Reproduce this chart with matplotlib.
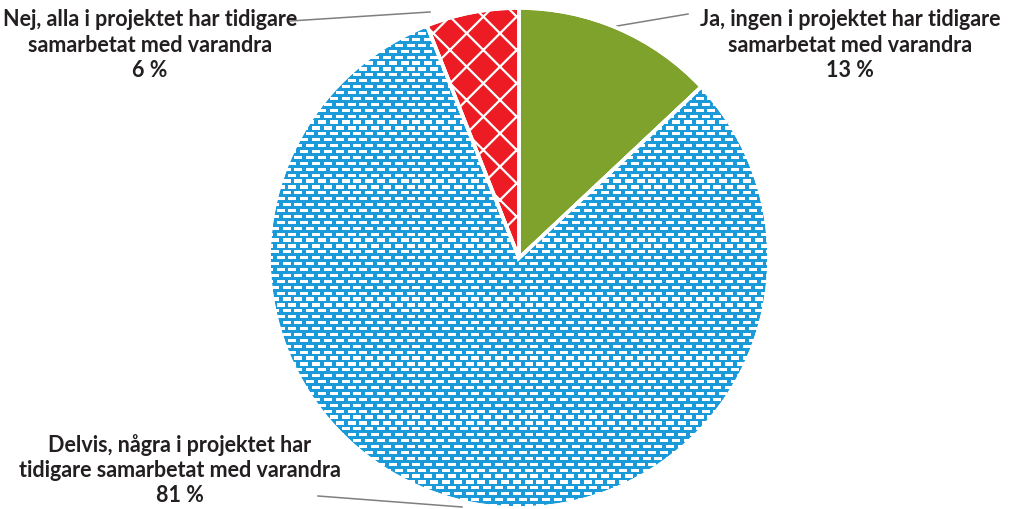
import numpy as np
import matplotlib
matplotlib.use("Agg")
import matplotlib.pyplot as plt
from matplotlib.patches import Wedge, Rectangle
from matplotlib.collections import PatchCollection

labels = ["Ja, ingen i projektet har tidigare\nsamarbetat med varandra\n13 %",
          "Delvis, några i projektet har\ntidigare samarbetat med varandra\n81 %",
          "Nej, alla i projektet har tidigare\nsamarbetat med varandra\n6 %"]
values = [13, 81, 6]
colors = ["#7fa22c", "#1a9ad9", "#ed1c24"]

W, H = 1012, 510
fig = plt.figure(figsize=(W/100, H/100), dpi=100)
ax = fig.add_axes([0, 0, 1, 1])
ax.set_xlim(0, W)
ax.set_ylim(0, H)
ax.set_aspect("equal")
ax.axis("off")

cx, cy, R = 519, H - 259, 250
plt.rcParams['hatch.linewidth'] = 1.6

wedges, _ = ax.pie(values, center=(cx, cy), radius=R, startangle=90, counterclock=False,
                   colors=colors, wedgeprops=dict(edgecolor="white", linewidth=2.5),
                   frame=True)
ax.set_xlim(0, W)
ax.set_ylim(0, H)
ax.axis("off")

# red: white diamond lattice
wedges[2].set_hatch("x")

# blue: white brick dashes pattern
rects = []
px, py = 11.8, 5.9
rw, rh = 8.0, 3.2
row = 0
for yy in np.arange(cy - R - 5, cy + R + 5, py):
    off = (px / 2) * (row % 2)
    for xx in np.arange(cx - R - 10 + off, cx + R + 10, px):
        rects.append(Rectangle((xx, yy), rw, rh))
    row += 1
pc = PatchCollection(rects, facecolor="white", edgecolor="none", zorder=3)
ax.add_collection(pc)
pc.set_clip_path(wedges[1])
# redraw white edge on top
for w in wedges:
    ax.add_patch(Wedge(w.center, w.r, w.theta1, w.theta2, facecolor="none",
                       edgecolor="white", linewidth=2.5, zorder=4))

font = dict(family="Lato", weight="bold", fontsize=15.5, color="#231f20",
            ha="center", va="center", linespacing=1.25)
ax.text(850, H - 45, labels[0], **font)
ax.text(180, H - 470, labels[1], **font)
ax.text(150, H - 45, labels[2], **font)

lc = "#7f7f7f"
ax.plot([617, 688], [H - 27, H - 15], color=lc, lw=1.1)
ax.plot([290, 430], [H - 22, H - 13], color=lc, lw=1.1)
ax.plot([318, 462], [H - 497, H - 508], color=lc, lw=1.1)

fig.savefig("out.png", dpi=100)
